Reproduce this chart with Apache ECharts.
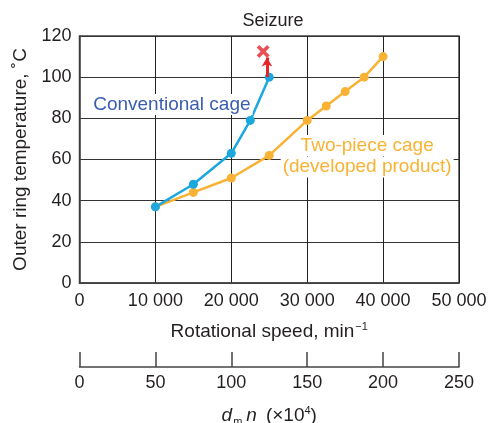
<!DOCTYPE html>
<html>
<head>
<meta charset="utf-8">
<script src="https://cdn.jsdelivr.net/npm/echarts@6/dist/echarts.min.js"></script>
<style>
  html, body { margin: 0; padding: 0; background: #fff; }
  #chart { width: 489px; height: 423px; }
</style>
</head>
<body>
<div id="chart"></div>
<script>
// rotational speed (min^-1) / outer ring temperature (°C)
const convSpeed = [10000, 15000, 20000, 22500, 25000]
const convTemp = [37, 48, 63, 79, 100]
const twoSpeed = [10000, 15000, 20000, 25000, 30000, 32500, 35000, 37500, 40000]
const twoTemp = [37, 44, 51, 62, 79, 86, 93, 100, 110]
// seizure: arrow from last conventional point, then the X
const arrowFrom = [24700, 100]
const arrowTo = [24700, 109.5]
const seizurePoint = [24200, 112.5]

const FONT = 'Liberation Sans, Arial, sans-serif'
const TXT = '#231f20'
const BLUE = '#1ba8df'
const ORANGE = '#f9b233'
const RED = '#e4262a'

const pairs = (xs, ys) => xs.map((x, i) => [x, ys[i]])
const fmtThousands = v => v === 0 ? '0' : String(v).replace(/\B(?=(\d{3})+(?!\d))/g, ' ')

// text annotation with white box, sitting over the grid lines
const note = (text, color) => ({
    show: true, position: 'inside',
    formatter: text,
    color: color, fontSize: 19, align: 'center',
    backgroundColor: '#fff', padding: [1, 2], fontFamily: FONT
})

const chart = echarts.init(document.getElementById('chart'))

const option = {
    animation: false,
    textStyle: { fontFamily: FONT },
    title: {
        text: 'Seizure',
        left: 268,
        top: 7,
        textAlign: 'center',
        textStyle: { fontFamily: FONT, fontSize: 18, fontWeight: 'normal', color: TXT }
    },
    grid: {
        left: 79.5, right: 30, top: 36, bottom: 140,
        outerBoundsMode: 'none',
        containLabel: false,
        show: true, borderColor: '#444', borderWidth: 1.5
    },
    xAxis: [{
        type: 'value', min: 0, max: 50000, interval: 10000,
        position: 'bottom',
        axisLine: { show: true, lineStyle: { color: '#444', width: 1.5 } },
        axisTick: { show: false },
        axisLabel: { formatter: fmtThousands, color: TXT, fontSize: 18, margin: 9, fontFamily: FONT },
        splitLine: { show: true, lineStyle: { color: '#222', width: 1 } },
        name: '{n|Rotational speed, min}{s|\u22121}',
        nameLocation: 'middle',
        nameGap: 38,
        nameTextStyle: {
            rich: {
                n: { fontSize: 19, color: TXT, fontFamily: FONT },
                s: { fontSize: 11, color: TXT, fontFamily: FONT, verticalAlign: 'top', padding: [0, 0, 11, 1] }
            }
        }
    }, {
        type: 'value', min: 0, max: 250, interval: 50,
        position: 'bottom',
        offset: 84,
        axisLine: { show: true, onZero: false, lineStyle: { color: '#444', width: 1.5 } },
        axisTick: { show: true, inside: true, length: 15, lineStyle: { color: '#444', width: 1.5 } },
        axisLabel: { color: TXT, fontSize: 18, margin: 7, fontFamily: FONT },
        splitLine: { show: false },
        name: '{i|d}{sub|m}{i|n}{g|(\u00d710}{sup|4}{n|)}',
        nameLocation: 'middle',
        nameGap: 38,
        nameTextStyle: {
            rich: {
                i: { fontSize: 19, color: TXT, fontStyle: 'italic', fontFamily: FONT },
                sub: { fontSize: 11, color: TXT, fontFamily: FONT, verticalAlign: 'bottom', padding: [7, 4, 0, 1] },
                n: { fontSize: 19, color: TXT, fontFamily: FONT },
                g: { fontSize: 19, color: TXT, fontFamily: FONT, padding: [0, 0, 0, 9] },
                sup: { fontSize: 11, color: TXT, fontFamily: FONT, verticalAlign: 'top', padding: [0, 0, 11, 0] }
            }
        }
    }],
    yAxis: {
        type: 'value', min: 0, max: 120, interval: 20,
        axisLine: { show: true, lineStyle: { color: '#444', width: 1.5 } },
        axisTick: { show: false },
        axisLabel: { color: TXT, fontSize: 18, margin: 8, fontFamily: FONT },
        splitLine: { show: true, lineStyle: { color: '#333', width: 1 } },
        name: 'Outer ring temperature, \u02daC',
        nameLocation: 'middle',
        nameGap: 46,
        nameTextStyle: { fontSize: 19, color: TXT, fontFamily: FONT }
    },
    series: [{
        name: 'Two-piece cage',
        type: 'line',
        data: pairs(twoSpeed, twoTemp),
        symbol: 'circle',
        symbolSize: 9,
        lineStyle: { color: ORANGE, width: 2.5 },
        itemStyle: { color: ORANGE },
        markPoint: {
            symbol: 'rect', symbolSize: 1,
            itemStyle: { color: 'rgba(0,0,0,0)' },
            data: [
                { coord: [37900, 66.8], label: note('Two-piece cage', ORANGE) },
                { coord: [37900, 56.4], label: note('(developed product)', ORANGE) }
            ]
        }
    }, {
        name: 'Conventional cage',
        type: 'line',
        data: pairs(convSpeed, convTemp),
        symbol: 'circle',
        symbolSize: 9,
        lineStyle: { color: BLUE, width: 2.5 },
        itemStyle: { color: BLUE },
        markPoint: {
            symbol: 'rect', symbolSize: 1,
            itemStyle: { color: 'rgba(0,0,0,0)' },
            data: [{ coord: [12170, 86.7], label: note('Conventional cage', '#3b5db0') }]
        },
        markLine: {
            silent: true,
            symbol: ['none', 'arrow'],
            symbolSize: [8, 9],
            lineStyle: { color: RED, width: 3, type: 'solid' },
            label: { show: false },
            data: [[{ coord: arrowFrom }, { coord: arrowTo }]]
        }
    }, {
        name: 'Seizure',
        type: 'scatter',
        data: [seizurePoint],
        symbol: 'path://M0,2 L2,0 L5,3 L8,0 L10,2 L7,5 L10,8 L8,10 L5,7 L2,10 L0,8 L3,5 Z',
        symbolSize: 13,
        itemStyle: { color: RED },
        z: 5
    }]
}

chart.setOption(option)
</script>
</body>
</html>
